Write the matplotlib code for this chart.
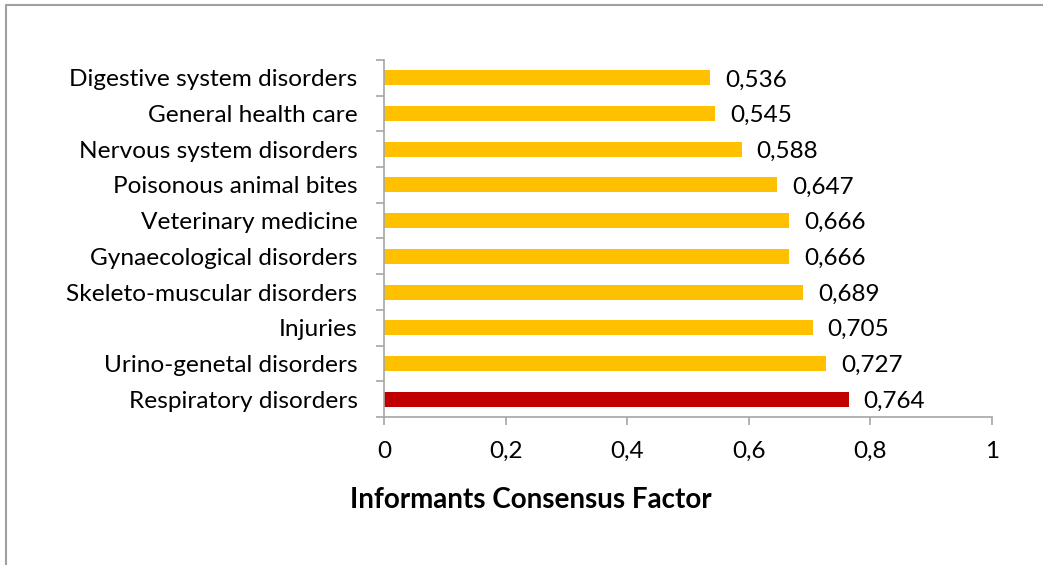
import matplotlib
matplotlib.use("Agg")
import matplotlib.pyplot as plt
from matplotlib.lines import Line2D
from matplotlib.ticker import FixedLocator

categories = [
    "Respiratory disorders",
    "Urino-genetal disorders",
    "Injuries",
    "Skeleto-muscular disorders",
    "Gynaecological disorders",
    "Veterinary medicine",
    "Poisonous animal bites",
    "Nervous system disorders",
    "General health care",
    "Digestive system disorders",
]
icf_values = [0.764, 0.727, 0.705, 0.689, 0.666, 0.666, 0.647, 0.588, 0.545, 0.536]
bar_colors = ["#C00000"] + ["#FFC000"] * 9
x_ticks = [0, 0.2, 0.4, 0.6, 0.8, 1.0]
x_tick_labels = ["0", "0,2", "0,4", "0,6", "0,8", "1"]
x_title = "Informants Consensus Factor"

plt.rcParams["font.family"] = ["Lato", "DejaVu Sans"]

W, H = 1043, 565
fig = plt.figure(figsize=(W / 100, H / 100), dpi=100)
ax = fig.add_axes([384 / W, 1 - 417 / H, (992 - 384) / W, (417 - 60) / H])

ypos = list(range(len(categories)))
ax.barh(ypos, icf_values, height=0.42, color=bar_colors, zorder=2)

for y, v in zip(ypos, icf_values):
    ax.annotate(f"{v:.3f}".replace(".", ","), xy=(v, y), xytext=(15, -2),
                textcoords="offset pixels", va="center", ha="left",
                fontsize=17.5, color="black")

ax.set_xlim(0, 1)
ax.set_ylim(-0.5, len(categories) - 0.5)
ax.set_xticks(x_ticks)
ax.set_xticklabels(x_tick_labels, fontsize=17.5)
ax.set_yticks(ypos)
ax.set_yticklabels(categories, fontsize=17.6)
ax.yaxis.set_minor_locator(FixedLocator([i - 0.5 for i in range(len(categories) + 1)]))

spine_color = "#A6A6A6"
for side in ("top", "right"):
    ax.spines[side].set_visible(False)
for side in ("left", "bottom"):
    ax.spines[side].set_color(spine_color)
    ax.spines[side].set_linewidth(1.2)

ax.tick_params(axis="y", which="major", length=0, pad=19)
ax.tick_params(axis="y", which="minor", length=6, width=1.2, color=spine_color, direction="out")
ax.tick_params(axis="x", which="major", length=6, width=1.2, color=spine_color, direction="out", pad=11)

fig.text(531 / W, 1 - 500 / H, x_title, ha="center", va="center",
         fontsize=20, fontweight="bold")

# thin frame along the top and left edges of the figure
fig.add_artist(Line2D([6 / W, 6 / W, 1.0], [0.0, 1 - 5 / H, 1 - 5 / H],
                      transform=fig.transFigure, color="#A0A0A0", linewidth=1.5))

fig.savefig("out.png", dpi=100)
